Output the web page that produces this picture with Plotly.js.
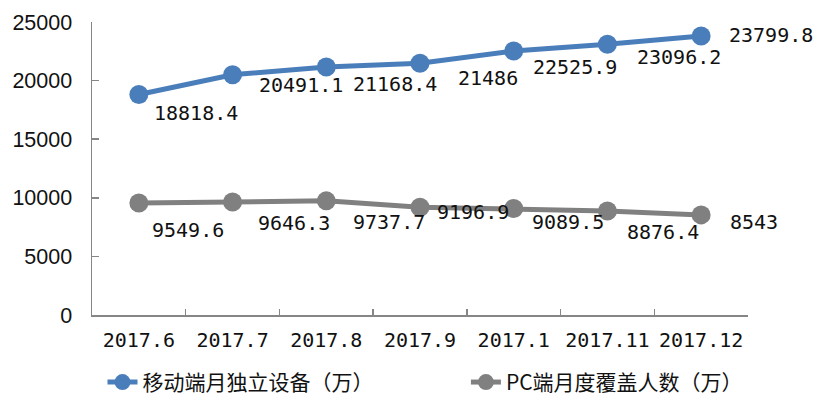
<!DOCTYPE html>
<html>
<head>
<meta charset="utf-8">
<script src="https://cdn.plot.ly/plotly-3.0.1.min.js"></script>
<style>html,body{margin:0;padding:0;background:#fff;}#chart{width:813px;height:404px;}</style>
</head>
<body>
<div id="chart"></div>
<script>
const categories = ["2017.6", "2017.7", "2017.8", "2017.9", "2017.1", "2017.11", "2017.12"];
const mobileValues = [18818.4, 20491.1, 21168.4, 21486, 22525.9, 23096.2, 23799.8];
const pcValues = [9549.6, 9646.3, 9737.7, 9196.9, 9089.5, 8876.4, 8543];
const mobileName = "移动端月独立设备（万）";
const pcName = "PC端月度覆盖人数（万）";
const yTicks = [0, 5000, 10000, 15000, 20000, 25000];

// label placement offsets (px) relative to each point — style only
const mobileLabelShift = [[13, -19], [24, -10], [25, -17], [36, -15], [17, -16], [28, -13], [26, 1]];
const pcLabelShift = [[11, -27], [23, -21], [25, -21], [15, -5], [16, -14], [18, -21], [27, -7]];

const monoFont = "'DejaVu Sans Mono', 'Noto Sans CJK SC', monospace";
const labelFont = {family: monoFont, size: 20, color: "#111"};

const traces = [
  {
    x: categories, y: mobileValues, name: mobileName, type: "scatter", mode: "lines+markers",
    line: {color: "#4a7ebb", width: 5},
    marker: {color: "#4a7ebb", size: 19},
    cliponaxis: false, legend: "legend"
  },
  {
    x: categories, y: pcValues, name: pcName, type: "scatter", mode: "lines+markers",
    line: {color: "#808080", width: 5},
    marker: {color: "#808080", size: 19},
    cliponaxis: false, legend: "legend2"
  }
];

function labels(values, shifts) {
  return values.map((v, i) => ({
    x: i, y: v, xref: "x", yref: "y",
    text: String(v), showarrow: false,
    xanchor: "left", yanchor: "middle",
    xshift: shifts[i][0], yshift: shifts[i][1],
    font: labelFont
  }));
}

const legendFont = {family: "'Noto Sans CJK SC', sans-serif", size: 21, color: "#111"};

const layout = {
  width: 813, height: 404,
  margin: {l: 92, r: 65, t: 22, b: 89, autoexpand: false},
  paper_bgcolor: "#fff", plot_bgcolor: "#fff",
  showlegend: true,
  annotations: labels(mobileValues, mobileLabelShift).concat(labels(pcValues, pcLabelShift)),
  xaxis: {
    type: "category",
    tickson: "boundaries",
    ticks: "inside", ticklen: 6, tickcolor: "#868686", tickwidth: 1.5,
    showline: true, linecolor: "#868686", linewidth: 1.5,
    showgrid: false, zeroline: false,
    tickangle: 0,
    tickfont: {family: monoFont, size: 20, color: "#111"},
    ticklabelstandoff: 6,
    range: [-0.5, 6.5]
  },
  yaxis: {
    range: [0, 25000], tickvals: yTicks, tickformat: "d",
    ticks: "inside", ticklen: 7, tickcolor: "#868686", tickwidth: 1.5,
    showline: true, linecolor: "#868686", linewidth: 1.5,
    showgrid: false, zeroline: false,
    tickfont: {family: "'Liberation Sans', Arial, sans-serif", size: 21.5, color: "#111"},
    ticklabelstandoff: 14
  },
  legend: {
    orientation: "h", x: 0.016, xanchor: "left", y: -0.3, yanchor: "bottom",
    font: legendFont, itemclick: false
  },
  legend2: {
    orientation: "h", x: 0.57, xanchor: "left", y: -0.3, yanchor: "bottom",
    font: legendFont, itemclick: false
  }
};

Plotly.newPlot("chart", traces, layout, {displayModeBar: false, staticPlot: true});
</script>
</body>
</html>
